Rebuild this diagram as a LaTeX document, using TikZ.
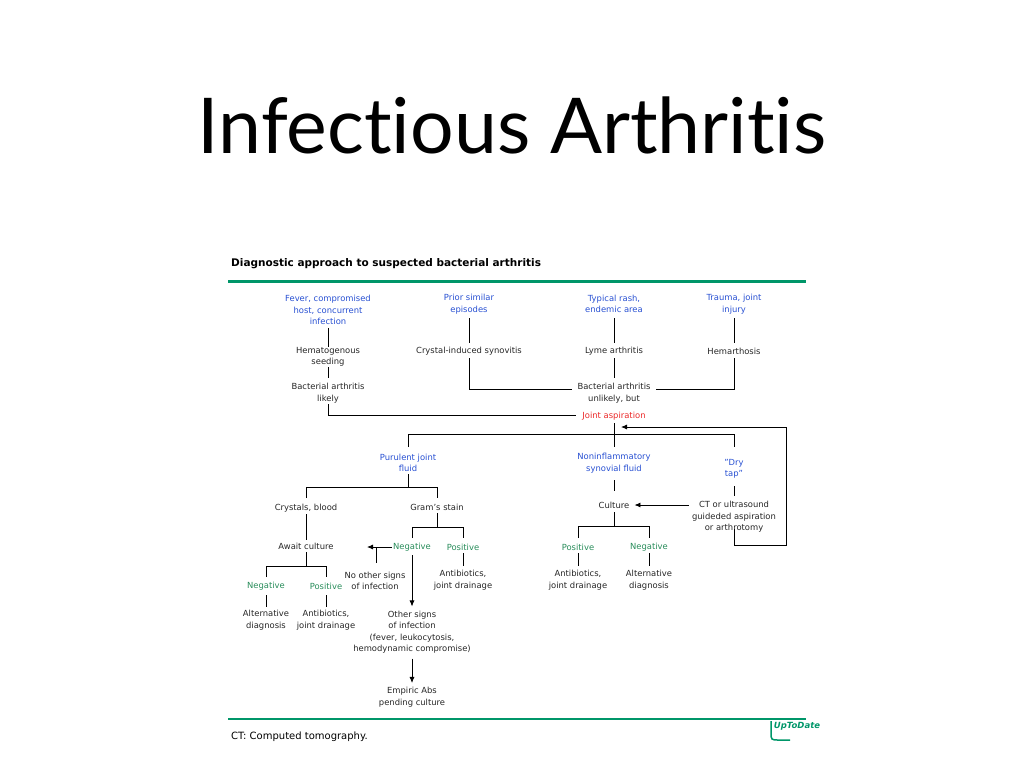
\documentclass[tikz,border=0pt]{standalone}
\usepackage{fontspec}
\setmainfont{DejaVu Sans}
\newfontfamily\titlefont[Ligatures=NoCommon]{Lato}
\usetikzlibrary{arrows.meta}
\definecolor{cblue}{RGB}{40,80,210}
\definecolor{cgreen}{RGB}{40,140,90}
\definecolor{cline}{RGB}{0,150,105}
\definecolor{cred}{RGB}{235,40,40}
\begin{document}
\begin{tikzpicture}[x=1pt,y=-1pt,
  t/.style={font=\fontsize{8.4}{11.5}\selectfont,align=center,inner sep=0pt,text=black!85},
  tb/.style={t,text=cblue},
  tg/.style={t,text=cgreen},
  ln/.style={line width=0.8pt},
  ar/.style={ln,-{Latex[length=6pt,width=5pt]}}]
\useasboundingbox (0,0) rectangle (1024,768);
\node[font=\titlefont\fontsize{77}{80}\selectfont,anchor=base] (title) at (512,153) {Infectious Arthritis};
\node[font=\bfseries\fontsize{10.5}{12}\selectfont,anchor=west,inner sep=0pt] (head) at (231,264) {Diagnostic approach to suspected bacterial arthritis};
\draw[cline,line width=3pt] (228,281) -- (806,281);
\draw[cline,line width=1.5pt] (228,719) -- (806,719);
\node[font=\fontsize{10}{12}\selectfont,anchor=west,inner sep=0pt] (ct) at (231,737) {CT: Computed tomography.};
\node[font=\itshape\bfseries\fontsize{8.5}{10}\selectfont,text=cline,inner sep=0pt] (logo) at (797,726) {UpToDate};
\draw[cline,line width=1.5pt] (771,721) -- (771,732) .. controls (771,740) .. (779,740) -- (790,740);
% row 1
\node[tb] (fever) at (328,310) {Fever, compromised\\host, concurrent\\infection};
\node[tb] (prior) at (469,304) {Prior similar\\episodes};
\node[tb] (rash) at (614,304) {Typical rash,\\endemic area};
\node[tb] (trauma) at (734,304) {Trauma, joint\\injury};
\node[t] (hema) at (328,357) {Hematogenous\\seeding};
\node[t] (crys) at (469,351) {Crystal-induced synovitis};
\node[t] (lyme) at (614,351) {Lyme arthritis};
\node[t] (hemar) at (734,351) {Hemarthosis};
\node[t] (likely) at (328,393) {Bacterial arthritis\\likely};
\node[t] (unlik) at (614,393) {Bacterial arthritis\\unlikely, but};
\node[t,text=cred] (asp) at (614,416) {Joint aspiration};
\draw[ln] (fever.south) ++(0,3) -- (hema.north);
\draw[ln] (328,367) -- (328,378);
\draw[ln] (328,404) -- (328,415) -- ([xshift=-6pt]asp.west |- 328,415);
\draw[ln] (469,318) -- (469,343);
\draw[ln] (614,318) -- (614,343);
\draw[ln] (734,318) -- (734,343);
\draw[ln] (469,358) -- (469,389) -- ([xshift=-5pt]unlik.west |- 469,389);
\draw[ln] (614,358) -- (614,378);
\draw[ln] (734,358) -- (734,389) -- ([xshift=5pt]unlik.east |- 734,389);
% row 2
\node[tb] (pur) at (408,463) {Purulent joint\\fluid};
\node[tb] (non) at (614,463) {Noninflammatory\\synovial fluid};
\node[tb] (dry) at (734,469) {"Dry\\tap"};
\draw[ln] (614,423) -- (614,447);
\draw[ln] (408,447) -- (408,434) -- (734,434) -- (734,447);
\draw[ln] (408,474) -- (408,487);
\draw[ln] (306,498) -- (306,487) -- (437,487) -- (437,498);
\draw[ln] (614,480) -- (614,491);
\draw[ln] (734,486) -- (734,496);
\node[t] (cb) at (306,508) {Crystals, blood};
\node[t] (gram) at (437,507) {Gram's stain};
\node[t] (cul) at (614,505) {Culture};
\node[t] (ctus) at (734,517) {CT or ultrasound\\guideded aspiration\\or arthrotomy};
\draw[ar] ([xshift=-3pt]ctus.west |- cul) -- ([xshift=5pt]cul.east);
\draw[ln] (734,529) -- (734,545) -- (786,545) -- (786,427);
\draw[ar] (786,427) -- (621,427);
% culture branch
\draw[ln] (614,512) -- (614,526);
\draw[ln] (578,538) -- (578,526) -- (649,526) -- (649,538);
\node[tg] (cpos) at (578,547) {Positive};
\node[tg] (cneg) at (649,547) {Negative};
\draw[ln] (578,553) -- (578,566);
\draw[ln] (649,553) -- (649,566);
\node[t] (cab) at (578,580) {Antibiotics,\\joint drainage};
\node[t] (calt) at (649,580) {Alternative\\diagnosis};
% gram branch
\draw[ln] (437,513) -- (437,527);
\draw[ln] (412,538) -- (412,527) -- (463,527) -- (463,538);
\node[tg] (gneg) at (412,547) {Negative};
\node[tg] (gpos) at (463,547) {Positive};
\draw[ln] (463,553) -- (463,566);
\node[t] (gab) at (463,580) {Antibiotics,\\joint drainage};
\node[t] (await) at (306,546) {Await culture};
\coordinate (awaitin) at (367,547);
\draw[ar] ([xshift=-1pt]gneg.west |- 0,547) -- (awaitin);
\draw[ln] (376,547) -- (376,563);
\node[t] (noth) at (375,581) {No other signs\\of infection};
\node[t] (oth) at (412,632) {Other signs\\of infection\\(fever, leukocytosis,\\hemodynamic compromise)};
\draw[ar] (412,555) -- ([yshift=4pt]oth.north);
\node[t] (emp) at (412,697) {Empiric Abs\\pending culture};
\draw[ar] ([yshift=-5pt]oth.south) -- ([yshift=4pt]emp.north);
% crystals branch
\draw[ln] (306,514) -- (306,540);
\draw[ln] (306,552) -- (306,566);
\draw[ln] (266,577) -- (266,566) -- (326,566) -- (326,577);
\node[tg] (aneg) at (266,586) {Negative};
\node[tg] (apos) at (326,586) {Positive};
\draw[ln] (266,595) -- (266,607);
\draw[ln] (326,595) -- (326,607);
\node[t] (aalt) at (266,620) {Alternative\\diagnosis};
\node[t] (aab) at (326,620) {Antibiotics,\\joint drainage};
\end{tikzpicture}
\end{document}
